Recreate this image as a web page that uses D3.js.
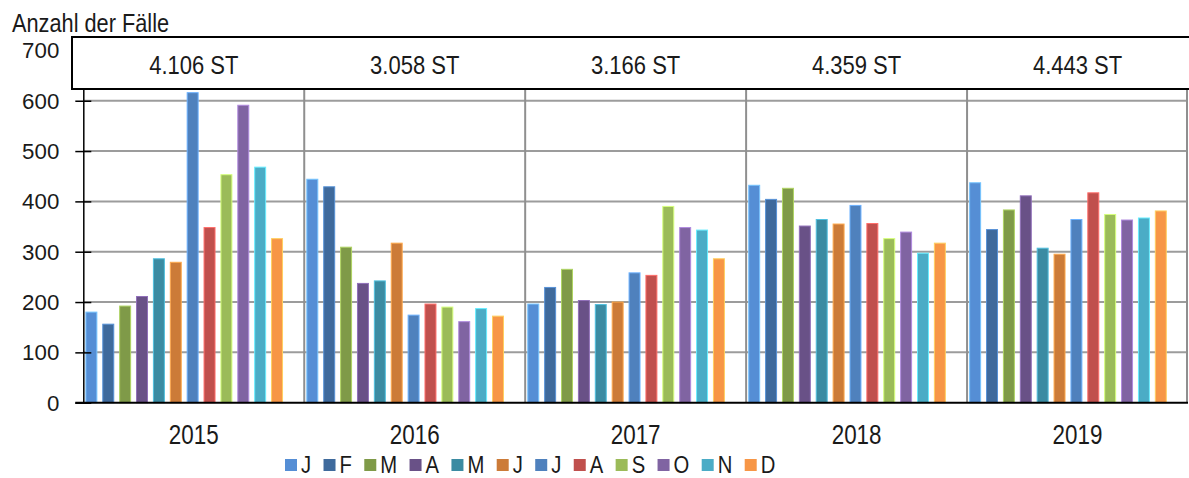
<!DOCTYPE html>
<html>
<head>
<meta charset="utf-8">
<script src="https://cdn.jsdelivr.net/npm/d3@7/dist/d3.min.js"></script>
<style>
  html, body { margin: 0; padding: 0; background: #fff; }
  svg { display: block; }
  text { font-family: "Liberation Sans", Arial, sans-serif; fill: #1a1a1a; }
</style>
</head>
<body>
<svg id="chart" width="1189" height="478"></svg>
<script>
// Monthly case counts per year
const years = ["2015", "2016", "2017", "2018", "2019"];
const months = ["J", "F", "M", "A", "M", "J", "J", "A", "S", "O", "N", "D"];
const totals = ["4.106 ST", "3.058 ST", "3.166 ST", "4.359 ST", "4.443 ST"];
const values2015 = [180, 156, 192, 211, 286, 279, 616, 348, 453, 591, 468, 326];
const values2016 = [444, 429, 309, 237, 242, 317, 174, 196, 190, 161, 187, 172];
const values2017 = [196, 229, 265, 203, 195, 200, 258, 253, 390, 348, 343, 286];
const values2018 = [432, 404, 426, 351, 364, 355, 392, 356, 326, 339, 297, 317];
const values2019 = [437, 344, 383, 411, 307, 295, 364, 417, 374, 363, 367, 381];
const yTicks = [0, 100, 200, 300, 400, 500, 600, 700];
const monthColors = ["#558ED5", "#3F6A9C", "#7F9A48", "#695187", "#3B8BA2", "#CC7B38",
                     "#4F81BD", "#C0504D", "#9BBB59", "#8064A2", "#4BACC6", "#F79646"];

const valuesByYear = [values2015, values2016, values2017, values2018, values2019];

const svg = d3.select("#chart");
const plot = { left: 83.3, right: 1188, top: 50.4, bottom: 402.7 };

// draw a text with a horizontally condensed face, anchored at (x, y)
function narrowText(parent, x, y, str, size, sx, anchor) {
  return parent.append("text")
    .attr("transform", `translate(${x},${y}) scale(${sx},1)`)
    .attr("text-anchor", anchor || "start")
    .attr("font-size", size)
    .text(str);
}

const x = d3.scaleBand().domain(years).range([plot.left, plot.right]).padding(0);
// twelve months plus one empty spacer slot at the end of each year
const slots = d3.range(13);
const xm = d3.scaleBand().domain(slots).range([0, x.bandwidth()])
  .paddingInner(0.35).paddingOuter(0.22).align(0.35);
const y = d3.scaleLinear().domain([0, 700]).range([plot.bottom, plot.top]);

// horizontal gridlines
svg.append("g").selectAll("line").data(yTicks.filter(d => d > 0)).join("line")
  .attr("x1", plot.left).attr("x2", plot.right)
  .attr("y1", d => y(d)).attr("y2", d => y(d))
  .attr("stroke", "#9c9c9c").attr("stroke-width", 2);

// year dividers
svg.append("g").selectAll("line").data(years.slice(1).concat(["end"])).join("line")
  .attr("x1", d => d === "end" ? plot.right - 1 : x(d))
  .attr("x2", d => d === "end" ? plot.right - 1 : x(d))
  .attr("y1", plot.top).attr("y2", plot.bottom)
  .attr("stroke", "#8f8f8f").attr("stroke-width", 2);

// bars
const groups = svg.append("g").selectAll("g").data(years).join("g")
  .attr("transform", d => `translate(${x(d)},0)`);
groups.selectAll("rect")
  .data((yr, i) => valuesByYear[i].map((v, m) => ({ m, v })))
  .join("rect")
  .attr("x", d => xm(d.m))
  .attr("width", xm.bandwidth())
  .attr("y", d => y(d.v))
  .attr("height", d => y(0) - y(d.v))
  .attr("fill", d => monthColors[d.m])
  .attr("stroke", d => d3.color(monthColors[d.m]).brighter(0.9))
  .attr("stroke-width", 1);

// left axis with crossing tick marks
const tickScale = 0.97;
const yAxis = svg.append("g").attr("transform", `translate(${plot.left},0)`)
  .call(d3.axisLeft(y).tickValues(yTicks).tickSizeInner(8).tickSizeOuter(0).tickPadding(16));
yAxis.select(".domain").attr("stroke", "#000").attr("stroke-width", 1.5);
yAxis.selectAll(".tick line").attr("x1", 8).attr("stroke", "#000").attr("stroke-width", 1.5);
yAxis.selectAll(".tick text")
  .attr("font-size", 23).attr("fill", "#1a1a1a")
  .attr("x", -24 / tickScale)
  .attr("transform", `scale(${tickScale},1)`)
  .style("font-family", "'Liberation Sans', Arial, sans-serif");

// baseline
svg.append("line")
  .attr("x1", plot.left - 8).attr("x2", plot.right)
  .attr("y1", y(0)).attr("y2", y(0))
  .attr("stroke", "#000").attr("stroke-width", 2);

// year labels below the axis
const yearLabels = svg.append("g");
years.forEach(d => narrowText(yearLabels, x(d) + x.bandwidth() / 2, 444, d, 27, 0.83, "middle"));

// header box with yearly totals
svg.append("rect")
  .attr("x", 72).attr("y", 37)
  .attr("width", plot.right - 72 + 4).attr("height", 52)
  .attr("fill", "#fff").attr("stroke", "#000").attr("stroke-width", 2);
const totalLabels = svg.append("g");
years.forEach((d, i) => narrowText(totalLabels, x(d) + x.bandwidth() / 2, 74, totals[i], 25, 0.88, "middle"));

// title
narrowText(svg, 12, 31.5, "Anzahl der Fälle", 25, 0.87);

// legend
const legendScale = 0.88;
const legend = svg.append("g").attr("transform", "translate(285,0)");
let lx = 0;
months.forEach((m, i) => {
  const g = legend.append("g").attr("transform", `translate(${lx},0)`);
  g.append("rect").attr("x", 0).attr("y", 459).attr("width", 12).attr("height", 12)
    .attr("fill", monthColors[i]);
  const t = narrowText(g, 16, 472.5, m, 23, legendScale);
  lx += 12 + t.node().getComputedTextLength() * legendScale + 16.4;
});
</script>
</body>
</html>
